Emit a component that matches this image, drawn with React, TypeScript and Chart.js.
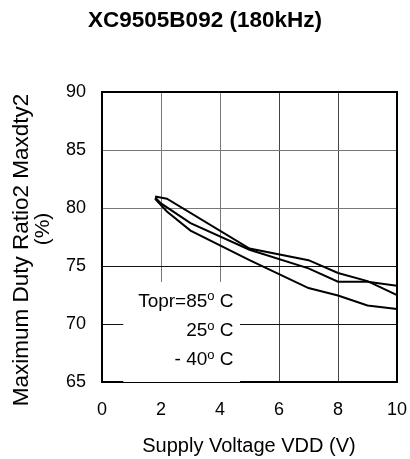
import React, { useEffect, useRef } from "react";
import { Chart, registerables } from "chart.js";

Chart.register(...registerables);

const TITLE = "XC9505B092 (180kHz)";
const X_TITLE = "Supply Voltage VDD (V)";
const Y_TITLE_1 = "Maximum Duty Ratio2 Maxdty2";
const Y_TITLE_2 = "(%)";

const X_TICKS = [0, 2, 4, 6, 8, 10];
const Y_TICKS = [65, 70, 75, 80, 85, 90];

// Topr curves (voltage, duty %)
const curveAx = [1.8, 2.2, 5.0, 7.0, 8.0, 9.0, 10.0];
const curveAy = [81.0, 80.8, 76.5, 75.5, 74.4, 73.7, 72.5];

const curveBx = [1.8, 2.0, 3.0, 5.0, 7.0, 8.0, 9.0, 10.0];
const curveBy = [80.9, 80.4, 78.7, 76.4, 74.8, 73.65, 73.65, 73.3];

const curveCx = [1.8, 2.2, 3.0, 5.0, 7.0, 8.0, 9.0, 10.0];
const curveCy = [80.8, 79.7, 78.05, 75.5, 73.1, 72.45, 71.6, 71.3];

const LEGEND_MAIN = ["Topr=85", "25", "- 40"];

const FONT = "'Liberation Sans', Arial, Helvetica, sans-serif";

const toPoints = (xs: number[], ys: number[]) => xs.map((x, i) => ({ x, y: ys[i] }));

const overlayPlugin = {
  id: "overlay",
  beforeDatasetsDraw(chart: any) {
    const { ctx, chartArea: a } = chart;
    const w = a.right - a.left;
    const h = a.bottom - a.top;
    ctx.save();
    // frame
    ctx.strokeStyle = "#000";
    ctx.lineWidth = 2;
    ctx.strokeRect(a.left, a.top, w, h);
    // white legend box
    ctx.fillStyle = "#fff";
    const bx = a.left + w * 0.072;
    const by = a.top + h * 0.655;
    ctx.fillRect(bx, by, a.left + w * 0.468 - bx, a.bottom - by);
    ctx.restore();
  },
  afterDraw(chart: any) {
    const { ctx, chartArea: a } = chart;
    const w = a.right - a.left;
    const h = a.bottom - a.top;
    ctx.save();
    ctx.fillStyle = "#000";
    // title
    ctx.font = `bold 22.5px ${FONT}`;
    ctx.textAlign = "center";
    ctx.textBaseline = "alphabetic";
    ctx.fillText(TITLE, 205, 27);
    // x title
    ctx.font = `20px ${FONT}`;
    ctx.fillText(X_TITLE, 249, 452);
    // y title
    ctx.save();
    ctx.translate(28, 250);
    ctx.rotate(-Math.PI / 2);
    ctx.font = `22.5px ${FONT}`;
    ctx.fillText(Y_TITLE_1, 0, 0);
    ctx.restore();
    ctx.save();
    ctx.translate(49, 229);
    ctx.rotate(-Math.PI / 2);
    ctx.font = `21px ${FONT}`;
    ctx.fillText(Y_TITLE_2, 0, 0);
    ctx.restore();
    // legend text
    const rightX = a.left + w * 0.446;
    const baselines = [0.74, 0.842, 0.942].map((f) => a.top + h * f);
    LEGEND_MAIN.forEach((txt, i) => {
      const yb = baselines[i];
      ctx.font = `19px ${FONT}`;
      ctx.textAlign = "right";
      const cW = ctx.measureText("C").width;
      const spW = ctx.measureText(" ").width;
      ctx.fillText("C", rightX, yb);
      const oRight = rightX - cW - spW;
      ctx.font = `13px ${FONT}`;
      const oW = ctx.measureText("o").width;
      ctx.fillText("o", oRight, yb - 6.5);
      ctx.font = `19px ${FONT}`;
      ctx.fillText(txt, oRight - oW, yb);
    });
    ctx.restore();
  },
};

export default function App() {
  const ref = useRef<HTMLCanvasElement | null>(null);
  useEffect(() => {
    if (!ref.current) return;
    const chart = new Chart(ref.current, {
      type: "line",
      data: {
        datasets: [
          { data: toPoints(curveAx, curveAy) },
          { data: toPoints(curveBx, curveBy) },
          { data: toPoints(curveCx, curveCy) },
        ].map((d) => ({
          ...d,
          borderColor: "#000",
          borderWidth: 2,
          pointRadius: 0,
          tension: 0,
          fill: false,
        })),
      },
      options: {
        responsive: false,
        animation: false,
        devicePixelRatio: 1,
        layout: { padding: { left: 0, right: 13, top: 92, bottom: 0 } },
        plugins: { legend: { display: false }, tooltip: { enabled: false }, title: { display: false } },
        scales: {
          x: {
            type: "linear",
            min: 0,
            max: 10,
            afterFit: (s: any) => {
              s.height = 77;
              s.paddingLeft = 0;
              s.paddingRight = 0;
            },
            afterBuildTicks: (s: any) => {
              s.ticks = X_TICKS.map((v) => ({ value: v }));
            },
            ticks: { color: "#000", font: { family: FONT, size: 18 }, padding: 17, maxRotation: 0 },
            grid: {
              drawTicks: false,
              color: (c: any) => (c.tick && (c.tick.value === 0 || c.tick.value === 10) ? "rgba(0,0,0,0)" : c.tick && c.tick.value >= 6 ? "#444" : "#777"),
              lineWidth: 1,
            },
            border: { display: false },
          },
          y: {
            type: "linear",
            min: 65,
            max: 90,
            afterFit: (s: any) => {
              s.width = 102;
              s.paddingTop = 0;
              s.paddingBottom = 0;
            },
            afterBuildTicks: (s: any) => {
              s.ticks = Y_TICKS.map((v) => ({ value: v }));
            },
            ticks: { color: "#000", font: { family: FONT, size: 18 }, padding: 16 },
            grid: {
              drawTicks: false,
              color: (c: any) => (c.tick && (c.tick.value === 65 || c.tick.value === 90) ? "rgba(0,0,0,0)" : c.tick && c.tick.value <= 75 ? "#111" : "#777"),
              lineWidth: 1,
            },
            border: { display: false },
          },
        },
      },
      plugins: [overlayPlugin],
    } as any);
    return () => chart.destroy();
  }, []);
  return (
    <div style={{ position: "fixed", left: 0, top: 0, width: 410, height: 459, background: "#fff" }}>
      <canvas ref={ref} width={410} height={459} style={{ display: "block" }} />
    </div>
  );
}
